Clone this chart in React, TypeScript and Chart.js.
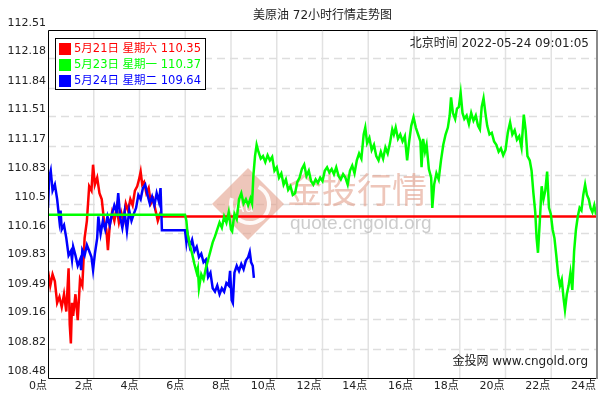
import React, { useEffect, useRef } from "react";
import { Chart, registerables } from "chart.js";
Chart.register(...registerables);

const TITLE = "美原油 72小时行情走势图";
const TIME_TEXT = "北京时间 2022-05-24 09:01:05";
const BRAND_TEXT = "金投网 www.cngold.org";
const yTickLabels = ["108.48", "108.82", "109.16", "109.49", "109.83", "110.16", "110.5", "110.83", "111.17", "111.51", "111.84", "112.18", "112.51"];
const xTickValues = [0, 2, 4, 6, 8, 10, 12, 14, 16, 18, 20, 22, 24];
const xTickLabels = ["0点", "2点", "4点", "6点", "8点", "10点", "12点", "14点", "16点", "18点", "20点", "22点", "24点"];
const seriesLabels = ["5月21日 星期六 110.35", "5月23日 星期一 110.37", "5月24日 星期二 109.64"];
const seriesColors = ["#ff0000", "#00ff00", "#0000ff"];

// [hour, price]
const red: [number, number][] = [
  [0, 109.72], [0.1, 109.55], [0.2, 109.68], [0.3, 109.6], [0.4, 109.35], [0.5, 109.42], [0.6, 109.3], [0.7, 109.45], [0.8, 109.25], [0.9, 109.75],
  [0.95, 109.1], [1.0, 108.88], [1.05, 109.35], [1.1, 109.2], [1.2, 109.45], [1.3, 109.15], [1.4, 109.62], [1.5, 109.55], [1.6, 110.1], [1.7, 110.3],
  [1.8, 110.7], [1.9, 110.65], [1.97, 110.95], [2.05, 110.72], [2.15, 110.8], [2.25, 110.62], [2.35, 110.55], [2.45, 110.3], [2.55, 110.2], [2.62, 109.96],
  [2.7, 110.25], [2.8, 110.4], [2.9, 110.3], [3.0, 110.45], [3.1, 110.28], [3.2, 110.4], [3.3, 110.3], [3.4, 110.5], [3.5, 110.42], [3.6, 110.55],
  [3.7, 110.48], [3.8, 110.65], [3.9, 110.7], [3.98, 110.78], [4.05, 110.87], [4.12, 110.72], [4.2, 110.75], [4.3, 110.62], [4.4, 110.68], [4.5, 110.5],
  [4.6, 110.55], [4.7, 110.42], [4.8, 110.3], [4.9, 110.38], [4.98, 110.35], [24, 110.35],
];

const green: [number, number][] = [
  [0, 110.37], [5.99, 110.37], [6.05, 110.3], [6.1, 110.15], [6.2, 110.02], [6.3, 109.92], [6.4, 109.8], [6.5, 109.7], [6.55, 109.75], [6.6, 109.52],
  [6.7, 109.68], [6.8, 109.62], [6.9, 109.75], [7.0, 109.85], [7.1, 109.95], [7.2, 110.05], [7.3, 110.12], [7.4, 110.2], [7.5, 110.28], [7.6, 110.22],
  [7.7, 110.35], [7.8, 110.28], [7.9, 110.4], [8.0, 110.2], [8.05, 110.18], [8.15, 110.38], [8.25, 110.32], [8.35, 110.55], [8.45, 110.62], [8.55, 110.5],
  [8.65, 110.55], [8.75, 110.48], [8.85, 110.56], [8.92, 110.5], [8.98, 110.83], [9.05, 111.05], [9.12, 111.18], [9.2, 111.1], [9.3, 111.02], [9.4, 111.05],
  [9.5, 110.98], [9.6, 111.06], [9.7, 111.0], [9.8, 111.04], [9.9, 110.88], [10.0, 110.92], [10.1, 110.8], [10.2, 110.85], [10.3, 110.72], [10.4, 110.78],
  [10.5, 110.66], [10.6, 110.7], [10.7, 110.6], [10.8, 110.62], [10.9, 110.75], [11.0, 110.8], [11.1, 110.9], [11.2, 110.95], [11.3, 110.82], [11.4, 110.88],
  [11.5, 110.76], [11.6, 110.72], [11.7, 110.78], [11.8, 110.74], [11.9, 110.8], [12.0, 110.76], [12.1, 110.88], [12.2, 110.92], [12.3, 110.86], [12.4, 110.9],
  [12.5, 110.84], [12.6, 110.92], [12.7, 110.82], [12.8, 110.78], [12.9, 110.84], [13.0, 110.8], [13.1, 110.72], [13.2, 110.88], [13.3, 110.94], [13.4, 110.85],
  [13.5, 111.0], [13.6, 111.08], [13.7, 111.02], [13.8, 111.3], [13.87, 111.38], [13.95, 111.2], [14.05, 111.26], [14.15, 111.12], [14.25, 111.18], [14.35, 111.05],
  [14.45, 111.0], [14.55, 111.1], [14.65, 111.02], [14.75, 111.15], [14.85, 111.08], [14.95, 111.2], [15.05, 111.36], [15.12, 111.3], [15.2, 111.38], [15.3, 111.25],
  [15.4, 111.3], [15.5, 111.22], [15.6, 111.28], [15.7, 111.0], [15.78, 111.2], [15.88, 111.4], [15.98, 111.5], [16.08, 111.38], [16.18, 111.3], [16.28, 111.22],
  [16.33, 110.92], [16.4, 111.25], [16.48, 111.1], [16.55, 111.18], [16.65, 110.9], [16.75, 110.8], [16.8, 110.45], [16.88, 110.72], [16.98, 110.85], [17.08, 110.78],
  [17.18, 111.0], [17.28, 111.18], [17.38, 111.3], [17.48, 111.38], [17.56, 111.52], [17.62, 111.73], [17.7, 111.55], [17.8, 111.48], [17.88, 111.6], [17.96, 111.62],
  [18.04, 111.78], [18.12, 111.55], [18.2, 111.48], [18.3, 111.52], [18.4, 111.42], [18.5, 111.55], [18.6, 111.46], [18.7, 111.52], [18.8, 111.4], [18.88, 111.36],
  [18.96, 111.62], [19.04, 111.72], [19.12, 111.55], [19.2, 111.4], [19.3, 111.3], [19.4, 111.32], [19.5, 111.22], [19.6, 111.18], [19.7, 111.1], [19.8, 111.14],
  [19.9, 111.06], [20.0, 111.12], [20.1, 111.32], [20.2, 111.44], [20.3, 111.3], [20.4, 111.35], [20.5, 111.24], [20.6, 111.28], [20.7, 111.15], [20.8, 111.53],
  [20.88, 111.35], [20.96, 111.05], [21.06, 111.0], [21.14, 110.88], [21.22, 110.62], [21.3, 110.4], [21.36, 110.1], [21.42, 109.93], [21.5, 110.3], [21.58, 110.7],
  [21.66, 110.55], [21.74, 110.65], [21.82, 110.87], [21.9, 110.45], [21.98, 110.38], [22.06, 110.2], [22.14, 110.1], [22.22, 109.9], [22.3, 109.68], [22.38, 109.55],
  [22.46, 109.62], [22.54, 109.4], [22.6, 109.27], [22.68, 109.45], [22.76, 109.55], [22.84, 109.7], [22.92, 109.5], [23.0, 109.95], [23.08, 110.2], [23.16, 110.35],
  [23.24, 110.45], [23.32, 110.42], [23.4, 110.6], [23.48, 110.72], [23.56, 110.6], [23.64, 110.55], [23.72, 110.45], [23.8, 110.4], [23.88, 110.48], [23.96, 110.37],
];

const blue: [number, number][] = [
  [0, 110.45], [0.05, 110.8], [0.12, 110.88], [0.2, 110.65], [0.3, 110.72], [0.4, 110.55], [0.5, 110.3], [0.55, 110.42], [0.6, 110.2], [0.7, 110.25],
  [0.8, 110.1], [0.9, 109.9], [1.0, 109.95], [1.05, 109.85], [1.1, 110.0], [1.2, 109.9], [1.3, 109.78], [1.4, 109.85], [1.45, 109.73], [1.5, 109.96],
  [1.6, 109.9], [1.7, 110.02], [1.8, 109.95], [1.9, 109.88], [1.97, 109.73], [2.05, 109.92], [2.15, 110.1], [2.2, 110.35], [2.3, 110.15], [2.4, 110.3],
  [2.5, 110.2], [2.6, 110.35], [2.7, 110.25], [2.8, 110.38], [2.9, 110.48], [3.0, 110.4], [3.07, 110.62], [3.15, 110.35], [3.25, 110.22], [3.35, 110.4],
  [3.45, 110.18], [3.55, 110.42], [3.65, 110.3], [3.75, 110.38], [3.85, 110.45], [3.95, 110.6], [4.05, 110.55], [4.15, 110.68], [4.25, 110.72], [4.35, 110.6],
  [4.45, 110.5], [4.55, 110.58], [4.65, 110.48], [4.75, 110.62], [4.85, 110.52], [4.92, 110.68], [4.98, 110.19], [5.99, 110.19], [6.05, 110.05], [6.1, 110.15],
  [6.2, 110.0], [6.3, 110.08], [6.4, 109.95], [6.5, 110.0], [6.6, 109.88], [6.7, 109.92], [6.8, 109.82], [6.9, 109.85], [7.0, 109.65], [7.1, 109.7],
  [7.2, 109.52], [7.3, 109.48], [7.4, 109.55], [7.5, 109.45], [7.6, 109.52], [7.7, 109.48], [7.8, 109.58], [7.9, 109.55], [7.96, 109.72], [8.03, 109.38],
  [8.08, 109.35], [8.15, 109.7], [8.25, 109.78], [8.35, 109.72], [8.45, 109.8], [8.55, 109.74], [8.65, 109.84], [8.75, 109.88], [8.82, 109.94], [8.88, 109.82],
  [8.95, 109.78], [9.0, 109.64],
];

const LATIN = "'DejaVu Sans', 'Noto Sans CJK SC', sans-serif";
const CJK = "'Noto Sans CJK SC', 'DejaVu Sans', sans-serif";

const decorPlugin = {
  id: "decor",
  beforeDraw(chart: any) {
    const { ctx, width, height } = chart;
    ctx.save();
    ctx.fillStyle = "#ffffff";
    ctx.fillRect(0, 0, width, height);
    ctx.restore();
  },
  beforeDatasetsDraw(chart: any) {
    const { ctx, chartArea: a, scales } = chart;
    const xs = scales.x, ys = scales.y;
    ctx.save();
    // vertical grid
    ctx.strokeStyle = "#e2e2e2";
    ctx.lineWidth = 1.5;
    xTickValues.forEach((v) => {
      const px = xs.getPixelForValue(v);
      if (px <= a.left + 1 || px >= a.right - 1) return;
      ctx.beginPath();
      ctx.moveTo(px, a.top);
      ctx.lineTo(px, a.bottom);
      ctx.stroke();
    });
    // horizontal dashed grid
    ctx.setLineDash([8, 5]);
    ctx.strokeStyle = "#dedede";
    yTickLabels.forEach((l) => {
      const py = Math.round(ys.getPixelForValue(parseFloat(l))) + 0.5;
      if (py <= a.top + 2 || py >= a.bottom - 2) return;
      ctx.beginPath();
      ctx.moveTo(a.left, py);
      ctx.lineTo(a.right, py);
      ctx.stroke();
    });
    ctx.setLineDash([]);
    // watermark
    const cx = 248, cy = 204, r = 36;
    ctx.fillStyle = "rgba(226,160,140,0.6)";
    ctx.beginPath();
    ctx.moveTo(cx - r, cy);
    ctx.lineTo(cx, cy - r);
    ctx.lineTo(cx + r, cy);
    ctx.lineTo(cx, cy + r);
    ctx.closePath();
    ctx.fill();
    ctx.strokeStyle = "rgba(255,255,255,0.9)";
    ctx.lineWidth = 4;
    ctx.beginPath();
    ctx.arc(cx + 2, cy, 19, -0.35 * Math.PI, 1.1 * Math.PI);
    ctx.stroke();
    ctx.fillStyle = "rgba(255,255,255,0.95)";
    ctx.font = `15px ${LATIN}`;
    ctx.textAlign = "center";
    ctx.textBaseline = "middle";
    ctx.fillText("Au", cx - 4, cy + 4);
    ctx.fillStyle = "rgba(226,160,140,0.6)";
    ctx.font = `35px ${CJK}`;
    ctx.textAlign = "left";
    ctx.textBaseline = "middle";
    ctx.fillText("金投行情", 287, 190);
    ctx.fillStyle = "rgba(170,170,170,0.6)";
    ctx.font = "19px 'Liberation Sans', Arial, sans-serif";
    ctx.textBaseline = "alphabetic";
    ctx.fillText("quote.cngold.org", 290, 229);
    ctx.restore();
  },
  afterDatasetsDraw(chart: any) {
    const { ctx, chartArea: a, scales } = chart;
    const xs = scales.x, ys = scales.y;
    ctx.save();
    // border
    ctx.strokeStyle = "#000";
    ctx.lineWidth = 1;
    ctx.beginPath();
    ctx.moveTo(a.right, a.top + 0.5);
    ctx.lineTo(a.left + 0.5, a.top + 0.5);
    ctx.lineTo(a.left + 0.5, a.bottom + 0.5);
    ctx.lineTo(a.right, a.bottom + 0.5);
    ctx.stroke();
    ctx.strokeStyle = "#8a8a8a";
    ctx.lineWidth = 2;
    ctx.beginPath();
    ctx.moveTo(a.right, a.top);
    ctx.lineTo(a.right, a.bottom + 1);
    ctx.stroke();
    // y labels
    ctx.fillStyle = "#222";
    ctx.font = `11px ${LATIN}`;
    ctx.textAlign = "right";
    ctx.textBaseline = "alphabetic";
    yTickLabels.forEach((l) => {
      const py = ys.getPixelForValue(parseFloat(l));
      ctx.fillText(l, a.left - 2, py - 4);
    });
    // x labels
    xTickValues.forEach((v, i) => {
      const px = xs.getPixelForValue(v);
      ctx.fillText(xTickLabels[i], px - 1, a.bottom + 11);
    });
    // title
    ctx.font = `12px ${LATIN}`;
    ctx.textAlign = "center";
    ctx.textBaseline = "middle";
    ctx.fillText(TITLE, (a.left + a.right) / 2, 16);
    // time
    ctx.textAlign = "right";
    ctx.fillText(TIME_TEXT, a.right - 8, 44);
    // brand
    ctx.fillText(BRAND_TEXT, a.right - 9, 362);
    // legend
    const lx = 55.5, ly = 38.5, lw = 150, lh = 51;
    ctx.fillStyle = "#fff";
    ctx.fillRect(lx, ly, lw, lh);
    ctx.strokeStyle = "#000";
    ctx.lineWidth = 1;
    ctx.strokeRect(lx, ly, lw, lh);
    ctx.font = `11.5px ${LATIN}`;
    ctx.textAlign = "left";
    seriesLabels.forEach((l, i) => {
      const cy = 49 + i * 16;
      ctx.fillStyle = seriesColors[i];
      ctx.fillRect(59, cy - 6, 12, 12);
      ctx.fillText(l, 74, cy);
    });
    ctx.restore();
  },
};

export default function App() {
  const ref = useRef<HTMLCanvasElement | null>(null);
  useEffect(() => {
    document.body.style.margin = "0";
    const canvas = ref.current;
    if (!canvas) return;
    const toPts = (arr: [number, number][]) => arr.map(([x, y]) => ({ x, y }));
    const chart = new Chart(canvas, {
      type: "line",
      data: {
        datasets: [
          { label: seriesLabels[1], data: toPts(green), borderColor: seriesColors[1], borderWidth: 2.5, pointRadius: 0, tension: 0, order: 1 },
          { label: seriesLabels[2], data: toPts(blue), borderColor: seriesColors[2], borderWidth: 2.5, pointRadius: 0, tension: 0, order: 2 },
          { label: seriesLabels[0], data: toPts(red), borderColor: seriesColors[0], borderWidth: 2.5, pointRadius: 0, tension: 0, order: 3 },
        ],
      },
      options: {
        responsive: false,
        animation: false,
        devicePixelRatio: 1,
        parsing: false,
        layout: { padding: { left: 48, right: 14, top: 30, bottom: 18 } },
        plugins: { legend: { display: false }, tooltip: { enabled: false } },
        scales: {
          x: { type: "linear", min: 0, max: 24, display: false },
          y: { type: "linear", min: parseFloat(yTickLabels[0]), max: parseFloat(yTickLabels[yTickLabels.length - 1]), display: false },
        },
      },
      plugins: [decorPlugin],
    } as any);
    return () => chart.destroy();
  }, []);
  return (
    <div style={{ width: 611, height: 396 }}>
      <canvas ref={ref} width={611} height={396} style={{ display: "block" }} />
    </div>
  );
}
